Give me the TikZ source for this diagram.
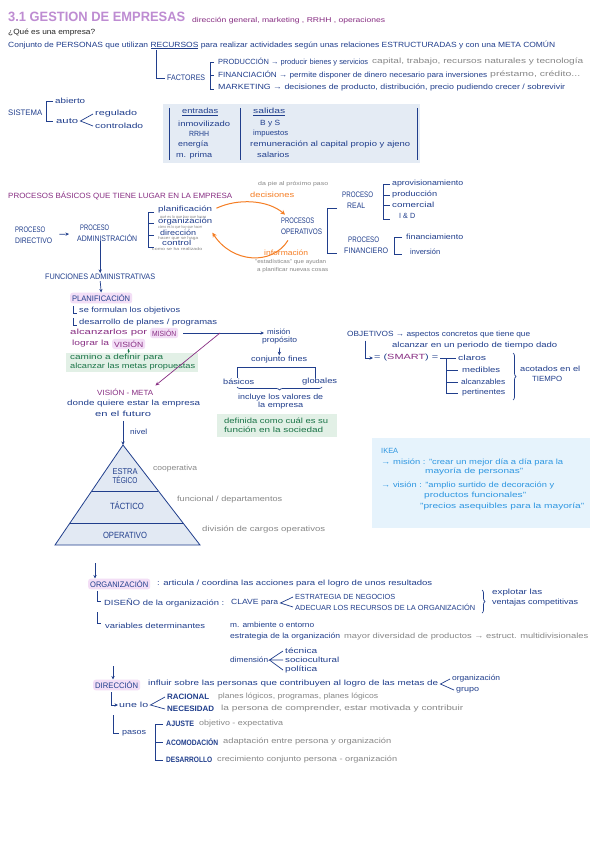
\documentclass[tikz,border=0pt]{standalone}
\usepackage{fontspec}
\setmainfont{Liberation Sans}
\usetikzlibrary{arrows.meta,decorations.pathreplacing}
\newcommand\fw[2]{\resizebox{#1}{\height}{#2}}
\newcommand\fs[1]{\fontsize{#1}{\dimexpr#1pt*4/3\relax}\selectfont}
\definecolor{navy}{RGB}{32,62,140}
\definecolor{lilac}{RGB}{190,140,210}
\definecolor{purp}{RGB}{135,45,130}
\definecolor{orng}{RGB}{245,125,35}
\definecolor{greyc}{RGB}{135,135,135}
\definecolor{grn}{RGB}{25,115,70}
\definecolor{gbg}{RGB}{226,240,230}
\definecolor{boxbg}{RGB}{228,235,244}
\definecolor{ikeabg}{RGB}{230,243,252}
\definecolor{ikeat}{RGB}{45,150,225}
\definecolor{pinkhl}{RGB}{243,222,246}
\definecolor{pyr}{RGB}{226,233,243}
\tikzset{
 tx/.style={anchor=west,inner sep=0pt,text=navy,font=\fs{7.5}},
 txg/.style={tx,text=greyc},
 txp/.style={tx,text=purp},
 txo/.style={tx,text=orng},
 txgr/.style={tx,text=grn},
 txb/.style={tx,text=ikeat},
 hl/.style={fill=pinkhl,rounded corners=2.5pt,inner xsep=2pt,inner ysep=1.8pt},
 ln/.style={draw=navy,line width=0.7pt},
 arr/.style={ln,-{Stealth[length=3.5pt,width=3.2pt]}},
 parr/.style={draw=purp,line width=0.7pt,-{Stealth[length=4pt,width=3.5pt]}},
 garr/.style={draw=grn,line width=0.6pt,-{Stealth[length=2.5pt,width=2.5pt]}},
 oarr/.style={draw=orng,line width=1pt,-{Stealth[length=4.5pt,width=4.5pt]}},
 brc/.style={ln,decorate,decoration={brace,amplitude=3pt}},
 brcm/.style={ln,decorate,decoration={brace,amplitude=3pt,mirror}},
 gbox/.style={fill=gbg,anchor=north west,inner sep=0pt},
}
\begin{document}
\begin{tikzpicture}[x=1pt,y=-1pt]
\useasboundingbox (0,0) rectangle (600,848);
\fill[white] (0,0) rectangle (600,848);

% ---------- header
\node[tx,text=lilac,font=\fs{13.5}\bfseries] (title) at (8,17) {\fw{177pt}{3.1 GESTION DE EMPRESAS}};
\node[txp,font=\fs{7}] (areas) at (192,21) {\fw{193pt}{dirección general, marketing , RRHH , operaciones}};
\node[tx,text=black!85] (quees) at (8,33) {\fw{87pt}{¿Qué es una empresa?}};
\node[tx] (def) at (8,45) {\fw{547pt}{Conjunto de PERSONAS que utilizan \underline{RECURSOS} para realizar actividades según unas relaciones ESTRUCTURADAS y con una META COMÚN}};
\coordinate (rec) at (156,50);
\node[tx,font=\fs{8}] (factores) at (167,78) {\fw{38pt}{FACTORES}};
\draw[ln] (rec) |- ([xshift=-2pt]factores.west);
\draw[ln] (214,62) -| (210,89) -- (214,89);
\draw[ln] (210,75) -- (214,75);
\node[tx] (prod) at (218,62) {\fw{150pt}{PRODUCCIÓN → producir bienes y servicios}};
\node[txg] (prodg) at (372,62) {\fw{211pt}{capital, trabajo, recursos naturales y tecnología}};
\node[tx] (fin) at (218,75) {\fw{269pt}{FINANCIACIÓN → permite disponer de dinero necesario para inversiones}};
\node[txg] (fing) at (490,75) {\fw{90pt}{préstamo, crédito...}};
\node[tx] (mkt) at (218,88) {\fw{347pt}{MARKETING → decisiones de producto, distribución, precio pudiendo crecer / sobrevivir}};

% ---------- sistema
\node[tx,font=\fs{8}] (sist) at (8,113) {\fw{34pt}{SISTEMA}};
\draw[ln] (53,101) -| (46,121) -- (53,121);
\node[tx] (abierto) at (55,101) {\fw{30pt}{abierto}};
\node[tx] (auto) at (56,121) {\fw{22pt}{auto}};
\node[tx] (regul) at (95,114) {\fw{42pt}{regulado}};
\node[tx] (contr) at (95,126) {\fw{48pt}{controlado}};
\draw[ln] ([xshift=-2pt]regul.west) -- ([xshift=2pt]auto.east) -- ([xshift=-2pt]contr.west);

\fill[boxbg] (163,104) rectangle (420,163);
\draw[ln] (169,108) -- (169,160);
\draw[ln] (240,108) -- (240,160);
\draw[ln] (417,108) -- (417,160);
\node[tx] (entr) at (182,112) {\fw{36pt}{\underline{entradas}}};
\node[tx] (inmov) at (178,124) {\fw{52pt}{inmovilizado}};
\node[tx] (rrhh) at (189,134) {\fw{20pt}{RRHH}};
\node[tx] (energ) at (178,145) {\fw{30pt}{energía}};
\node[tx] (mprima) at (176,156) {\fw{36pt}{m. prima}};
\node[tx] (salid) at (253,112) {\fw{32pt}{\underline{salidas}}};
\node[tx] (bys) at (260,124) {\fw{20pt}{B y S}};
\node[tx] (impu) at (253,134) {\fw{35pt}{impuestos}};
\node[tx] (remu) at (250,145) {\fw{160pt}{remuneración al capital propio y ajeno}};
\node[tx] (salar) at (257,155) {\fw{32pt}{salarios}};

% ---------- procesos
\node[txp,font=\fs{7.6}] (pb) at (8,196) {\fw{224pt}{PROCESOS BÁSICOS QUE TIENE LUGAR EN LA EMPRESA}};
\node[txg,font=\fs{5.5}] (dapie) at (258,184) {\fw{70pt}{da pie al próximo paso}};
\node[txo] (decis) at (250,195) {\fw{44pt}{decisiones}};
\node[tx,align=left,font=\fs{8}] (pdir) at (15,235) {\fw{30pt}{PROCESO}\\\fw{37pt}{DIRECTIVO}};
\node[tx,align=left,font=\fs{8}] (padm) at (77,233) {\hspace{3pt}\fw{29pt}{PROCESO}\\\fw{60pt}{ADMINISTRACIÓN}};
\draw[arr,shorten <=7pt,shorten >=8pt] (pdir) -- (padm);

\draw[ln] (154,212) -| (148,247) -- (154,247);
\draw[ln] (148,223) -- (154,223);
\draw[ln] (148,235) -- (154,235);
\node[tx] (pl) at (158,210) {\fw{54pt}{planificación}};
\node[txg,font=\fs{4}] (plg) at (160,217) {\fw{46pt}{qué es lo que hay que hacer}};
\node[tx] (org) at (158,222) {\fw{54pt}{organización}};
\node[txg,font=\fs{4}] (orgg) at (158,227.5) {\fw{44pt}{cómo es lo que hay que hacer}};
\node[tx] (dir) at (160,233) {\fw{36pt}{dirección}};
\node[txg,font=\fs{4}] (dirg) at (158,238.5) {\fw{40pt}{hacer que se haga}};
\node[tx] (ctrl) at (162,243) {\fw{29pt}{control}};
\node[txg,font=\fs{4}] (ctrlg) at (152,249) {\fw{50pt}{como se ha realizado}};

\node[tx,align=left,font=\fs{8}] (pops) at (281,226) {\fw{33pt}{PROCESOS}\\\fw{41pt}{OPERATIVOS}};
\draw[oarr] ([xshift=4pt,yshift=-2pt]pl.north east) .. controls (238,198) and (268,200) .. ([xshift=4pt,yshift=3pt]pops.north west);
\draw[oarr] ([xshift=7pt,yshift=-6pt]pops.south west) .. controls (272,266) and (232,263) .. ([yshift=-7pt]org.south east);
\node[txo] (info) at (264,253) {\fw{44pt}{información}};
\node[txg,font=\fs{5.5}] (estad) at (255,262) {\fw{71pt}{"estadísticas" que ayudan}};
\node[txg,font=\fs{5.5}] (aplan) at (257,270) {\fw{71pt}{a planificar nuevas cosas}};

\draw[ln] (337,208) -| (327,253) -- (337,253);
\node[tx,align=left,font=\fs{8}] (preal) at (342,200) {\fw{31pt}{PROCESO}\\\hspace{5pt}\fw{18pt}{REAL}};
\draw[ln] (390,184) -| (383,219) -- (390,219);
\draw[ln] (383,195) -- (390,195);
\draw[ln] (383,205) -- (390,205);
\node[tx] (aprov) at (392,184) {\fw{71pt}{aprovisionamiento}};
\node[tx] (produ) at (392,195) {\fw{45pt}{producción}};
\node[tx] (comer) at (392,205) {\fw{42pt}{comercial}};
\node[tx] (iyd) at (399,216) {\fw{16pt}{I \& D}};
\node[tx,align=left,font=\fs{8}] (pfin) at (344,245) {\hspace{4pt}\fw{31pt}{PROCESO}\\\fw{44pt}{FINANCIERO}};
\draw[ln] (402,237) -| (394,254) -- (402,254);
\node[tx] (financ) at (406,237) {\fw{57pt}{financiamiento}};
\node[tx] (invers) at (410,252) {\fw{30pt}{inversión}};

% ---------- funciones / planificacion
\node[tx,font=\fs{8}] (func) at (45,277) {\fw{110pt}{FUNCIONES ADMINISTRATIVAS}};
\draw[arr] (func |- padm.south) -- ([yshift=1pt]func.north);
\node[tx,hl,font=\fs{8}] (plan) at (70,298) {\fw{58pt}{PLANIFICACIÓN}};
\draw[arr] ([yshift=-1pt]func.south) -- (plan.north);
\draw[ln,line width=0.5pt] (73,306) |- (77,313);
\node[tx] (formul) at (79,311) {\fw{101pt}{se formulan los objetivos}};
\draw[ln,line width=0.5pt] (73,318) |- (77,325);
\node[tx] (desarr) at (79,323) {\fw{138pt}{desarrollo de planes / programas}};
\node[txp] (alc) at (70,333) {\fw{77pt}{alcanzarlos por}};
\node[txp,hl] (mision) at (150,333) {\fw{24pt}{MISIÓN}};
\node[txp] (lograr) at (72,344) {\fw{37pt}{lograr la}};
\node[txp,hl] (vision) at (112,344) {\fw{29pt}{VISIÓN}};
\node[gbox,minimum width=132pt,minimum height=19pt] (gb1) at (66,353) {};
\draw[garr] (vision.south) -- (vision.south |- gb1.north);
\node[txgr] (gb1a) at (70,358) {\fw{93pt}{camino a definir para}};
\node[txgr] (gb1b) at (70,367) {\fw{125pt}{alcanzar las metas propuestas}};

\node[tx] (misn) at (267,332) {\fw{23pt}{misión}};
\node[tx] (prop) at (262,341) {\fw{35pt}{propósito}};
\draw[arr] ([xshift=5pt]mision.east) -- ([xshift=-3pt]misn.west |- mision.east);
\coordinate (brk) at (220,333);
\node[txp] (vm) at (97,392) {\fw{56pt}{VISIÓN - META}};
\draw[parr] (brk) -- ([xshift=2pt,yshift=3pt]vm.north east);
\node[tx] (donde) at (67,404) {\fw{133pt}{donde quiere estar la empresa}};
\node[tx] (futuro) at (95,414) {\fw{56pt}{en el futuro}};

\node[tx] (cfin) at (251,360) {\fw{56pt}{conjunto fines}};
\draw[arr] ([yshift=-3pt]prop.south) -- ([yshift=1pt]cfin.north);
\draw[ln] (237,378) |- (315,367) -- (315,378);
\node[tx] (basic) at (223,382) {\fw{31pt}{básicos}};
\node[tx] (glob) at (302,382) {\fw{35pt}{globales}};
\draw[brcm] (237,387) -- (322,387);
\node[tx] (incl) at (238,398) {\fw{85pt}{incluye los valores de}};
\node[tx] (laemp) at (258,406) {\fw{45pt}{la empresa}};
\node[gbox,minimum width=120pt,minimum height=23pt] (gb2) at (217,414) {};
\node[txgr] (gb2a) at (224,421) {\fw{104pt}{definida como cuál es su}};
\node[txgr] (gb2b) at (224,430) {\fw{99pt}{función en la sociedad}};

% ---------- piramide
\coordinate (apex) at (123,445);
\coordinate (bl) at (55,545);
\coordinate (br) at (200,545);
\draw[arr] ([yshift=-4pt]futuro.south -| apex) -- (apex);
\node[tx,font=\fs{7.5}] (nivel) at (130,432) {\fw{17pt}{nivel}};
\filldraw[fill=pyr,draw=navy,line width=0.8pt] (apex) -- (bl) -- (br) -- cycle;
\draw[ln] (91.7,491) -- (158.4,491);
\draw[ln] (70,523) -- (183,523);
\node[tx,anchor=center,align=center,font=\fontsize{8.5}{9.5}\selectfont] (estra) at (125,476) {\fw{25pt}{ESTRA}\\\fw{25pt}{TÉGICO}};
\node[tx,anchor=center,font=\fs{9}] (tact) at (127,506) {\fw{34pt}{TÁCTICO}};
\node[tx,anchor=center,font=\fs{9}] (opera) at (125,535) {\fw{44pt}{OPERATIVO}};
\node[txg] (coop) at (153,469) {\fw{44pt}{cooperativa}};
\node[txg] (funcd) at (177,500) {\fw{105pt}{funcional / departamentos}};
\node[txg] (divis) at (202,530) {\fw{123pt}{división de cargos operativos}};

% ---------- objetivos
\node[tx] (objet) at (347,335) {\fw{183pt}{OBJETIVOS → aspectos concretos que tiene que}};
\node[tx] (alcz) at (392,346) {\fw{165pt}{alcanzar en un periodo de tiempo dado}};
\node[tx] (smart) at (374,358) {\fw{64pt}{= ({\color{purp}SMART}) =}};
\draw[arr] ([xshift=18pt,yshift=-2pt]objet.south west) |- ([xshift=-1pt]smart.west);
\node[tx] (claros) at (458,358) {\fw{28pt}{claros}};
\node[tx] (medib) at (462,370) {\fw{38pt}{medibles}};
\node[tx] (alcanz) at (461,382) {\fw{44pt}{alcanzables}};
\node[tx] (pert) at (462,393) {\fw{43pt}{pertinentes}};
\draw[ln] ([xshift=2pt]smart.east) -- ([xshift=-2pt]claros.west);
\draw[ln] (446,358) |- ([xshift=-4pt]pert.west);
\draw[ln] (446,370) -- ([xshift=-4pt]medib.west);
\draw[ln] (446,382) -- ([xshift=-3pt]alcanz.west);
\draw[brc] (513,353) -- (513,400);
\node[tx] (acot) at (520,369) {\fw{60pt}{acotados en el}};
\node[tx] (tiempo) at (532,379) {\fw{30pt}{TIEMPO}};

% ---------- IKEA
\node[fill=ikeabg,anchor=north west,minimum width=218pt,minimum height=90pt,inner sep=0pt] (ikbox) at (372,438) {};
\node[txb] (ikea) at (381,451) {\fw{17pt}{IKEA}};
\node[txb] (ikm1) at (381,463) {\fw{182pt}{→ misión : "crear un mejor día a día para la}};
\node[txb] (ikm2) at (425,472) {\fw{98pt}{mayoría de personas"}};
\node[txb] (ikv1) at (381,486) {\fw{173pt}{→ visión : "amplio surtido de decoración y}};
\node[txb] (ikv2) at (424,496) {\fw{102pt}{productos funcionales"}};
\node[txb] (ikv3) at (420,507) {\fw{164pt}{"precios asequibles para la mayoría"}};

% ---------- organizacion
\coordinate (oarrtop) at (95,563);
\node[tx,hl,font=\fs{8}] (orgz) at (88,584) {\fw{58pt}{ORGANIZACIÓN}};
\draw[arr] (oarrtop) -- (oarrtop |- orgz.north);
\node[tx] (orgdef) at (157,584) {\fw{275pt}{: articula / coordina las acciones para el logro de unos resultados}};
\draw[ln] (97,591) |- (101,601);
\node[tx] (dis) at (104,603) {\fw{120pt}{DISEÑO de la organización :}};
\node[tx] (clave) at (231,603) {\fw{47pt}{CLAVE para}};
\node[tx,font=\fs{7.4}] (estrneg) at (295,597) {\fw{100pt}{ESTRATEGIA DE NEGOCIOS}};
\node[tx,font=\fs{7.4}] (adec) at (295,607) {\fw{180pt}{ADECUAR LOS RECURSOS DE LA ORGANIZACIÓN}};
\draw[ln] ([xshift=-2pt]estrneg.west) -- ([xshift=2pt]clave.east) -- ([xshift=-2pt]adec.west);
\draw[brc] (482,590) -- (482,613);
\node[tx] (explot) at (492,593) {\fw{50pt}{explotar las}};
\node[tx] (ventaj) at (492,603) {\fw{86pt}{ventajas competitivas}};
\draw[ln] (97,612) |- (101,623);
\node[tx] (varde) at (105,626) {\fw{100pt}{variables determinantes}};
\node[tx] (mamb) at (230,625) {\fw{84pt}{m. ambiente o entorno}};
\node[tx] (estrorg) at (230,637) {\fw{110pt}{estrategia de la organización}};
\node[txg] (mayor) at (344,637) {\fw{244pt}{mayor diversidad de productos → estruct. multidivisionales}};
\node[tx] (dimen) at (230,660) {\fw{38pt}{dimensión}};
\node[tx] (tecn) at (285,651) {\fw{32pt}{técnica}};
\node[tx] (socio) at (285,660) {\fw{54pt}{sociocultural}};
\node[tx] (polit) at (285,670) {\fw{32pt}{política}};
\draw[ln] ([xshift=-2pt]tecn.west) -- ([xshift=1pt]dimen.east) -- ([xshift=-2pt]socio.west);
\draw[ln] ([xshift=1pt]dimen.east) -- ([xshift=-2pt]polit.west);

% ---------- direccion
\coordinate (darrtop) at (113,666);
\node[tx,hl,font=\fs{8}] (direc) at (93,685) {\fw{43pt}{DIRECCIÓN}};
\draw[arr] (darrtop) -- (darrtop |- direc.north);
\node[tx] (infl) at (148,684) {\fw{290pt}{influir sobre las personas que contribuyen al logro de las metas de}};
\node[tx] (orgn) at (452,679) {\fw{48pt}{organización}};
\node[tx] (grupo) at (456,690) {\fw{23pt}{grupo}};
\draw[ln] ([xshift=-2pt]orgn.west) -- ([xshift=2pt]infl.east) -- ([xshift=-2pt]grupo.west);
\node[tx] (unelo) at (119,705) {\fw{29pt}{une lo}};
\draw[arr] (111,692) |- ([xshift=-1pt]unelo.west);
\node[tx,font=\fs{7.8}\bfseries] (racion) at (167,697) {\fw{42pt}{RACIONAL}};
\node[txg] (raciong) at (218,697) {\fw{160pt}{planes lógicos, programas, planes lógicos}};
\node[tx,font=\fs{7.8}\bfseries] (neces) at (167,709) {\fw{47pt}{NECESIDAD}};
\node[txg] (necesg) at (221,709) {\fw{242pt}{la persona de comprender, estar motivada y contribuir}};
\draw[ln] ([xshift=-2pt]racion.west) -- ([xshift=2pt]unelo.east) -- ([xshift=-2pt]neces.west);
\draw[ln] (113,715) |- (119,733);
\node[tx] (pasos) at (122,733) {\fw{24pt}{pasos}};
\draw[ln] (163,724) -| (155,760) -- (163,760);
\draw[ln] (155,742) -- (163,742);
\node[tx,font=\fs{7.8}\bfseries] (ajuste) at (166,724) {\fw{28pt}{AJUSTE}};
\node[txg] (ajusteg) at (199,724) {\fw{84pt}{objetivo - expectativa}};
\node[tx,font=\fs{7.8}\bfseries] (acom) at (166,742) {\fw{52pt}{ACOMODACIÓN}};
\node[txg] (acomg) at (223,742) {\fw{168pt}{adaptación entre persona y organización}};
\node[tx,font=\fs{7.8}\bfseries] (desar) at (166,760) {\fw{46pt}{DESARROLLO}};
\node[txg] (desarg) at (217,760) {\fw{180pt}{crecimiento conjunto persona - organización}};
\end{tikzpicture}
\end{document}
